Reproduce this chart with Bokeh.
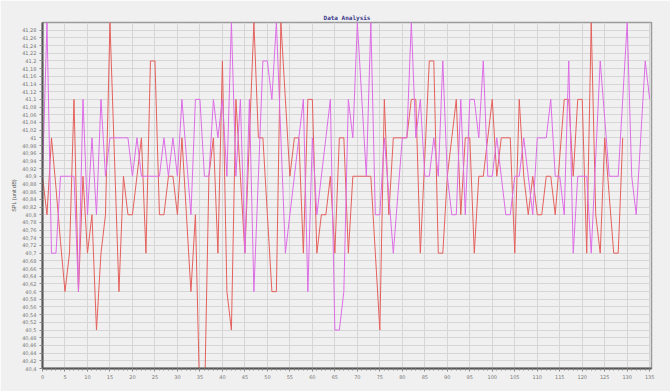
from bokeh.plotting import figure
from bokeh.models import FixedTicker, Range1d, Title
from bokeh.embed import file_html
from bokeh.resources import INLINE

red_values = [40.9, 40.8, 41.0, 40.87, 40.73, 40.6, 40.7, 41.1, 40.6, 40.9,
              40.7, 40.8, 40.5, 40.7, 40.8, 41.3, 40.95, 40.6, 40.9, 40.8,
              40.8, 40.9, 41.0, 40.7, 41.2, 41.2, 40.8, 40.8, 40.9, 40.9,
              40.8, 41.0, 40.8, 40.6, 40.8, 40.3, 40.3, 40.9, 41.0, 40.7,
              41.2, 40.6, 40.5, 41.1, 40.9, 40.7, 41.0, 41.3, 41.0, 41.0,
              40.8, 40.6, 40.6, 41.3, 41.1, 40.9, 41.0, 41.0, 40.7, 41.1,
              41.1, 40.7, 40.8, 40.8, 40.9, 40.7, 41.0, 41.0, 40.7, 40.9,
              40.9, 40.9, 40.9, 40.9, 40.7, 40.5, 41.1, 40.8, 41.0, 41.0,
              41.0, 41.0, 41.1, 41.1, 40.7, 40.95, 41.2, 41.2, 40.7, 40.7,
              40.9, 41.0, 41.1, 40.8, 41.0, 41.0, 40.7, 40.9, 40.9, 41.0,
              41.1, 40.9, 41.0, 41.0, 41.0, 40.7, 41.1, 40.9, 40.8, 40.9,
              40.8, 40.8, 40.9, 40.9, 40.8, 40.95, 41.1, 41.1, 40.9, 41.1,
              41.1, 40.7, 41.3, 40.8, 40.7, 41.0, 40.85, 40.7, 40.7, 41.0]

pink_values = [40.9, 41.3, 40.7, 40.7, 40.9, 40.9, 40.9, 40.9, 40.6, 41.1,
               40.8, 41.0, 40.8, 41.1, 40.9, 41.0, 41.0, 41.0, 41.0, 41.0,
               40.9, 41.0, 40.9, 40.9, 40.9, 40.9, 40.9, 41.0, 40.9, 41.0,
               40.9, 41.1, 40.95, 40.8, 41.1, 41.1, 40.9, 40.9, 41.1, 41.0,
               41.1, 40.9, 41.3, 40.9, 41.1, 40.7, 41.1, 40.6, 40.9, 41.2,
               41.2, 41.1, 41.3, 41.0, 40.7, 40.8, 40.9, 41.0, 41.1, 40.6,
               41.0, 40.8, 40.9, 41.0, 41.1, 40.5, 40.5, 40.6, 41.1, 41.0,
               41.3, 41.1, 40.9, 41.3, 40.8, 40.8, 41.0, 40.85, 40.7, 40.85,
               41.0, 41.0, 41.3, 41.0, 41.1, 40.9, 40.9, 41.0, 40.9, 41.2,
               40.9, 40.8, 40.8, 41.1, 40.8, 41.1, 41.1, 41.0, 41.2, 40.9,
               40.9, 41.0, 40.9, 40.8, 40.8, 40.9, 40.9, 41.0, 40.9, 40.8,
               41.0, 41.0, 41.0, 41.1, 40.9, 40.9, 40.8, 41.2, 40.7, 40.9,
               40.9, 40.9, 40.7, 40.95, 41.2, 41.05, 40.9, 40.9, 40.9, 41.1,
               41.3, 40.9, 40.8, 41.0, 41.2, 41.1]

red_x = list(range(len(red_values)))
pink_x = list(range(len(pink_values)))

x_ticks = list(range(0, 140, 5))
x_minor = list(range(0, 136))
y_ticks = [round(40.4 + 0.02 * k, 2) for k in range(45)]
y_labels = {t: (("%.2f" % t).rstrip("0").rstrip(".")).replace(".", ",") for t in y_ticks}

title_text = "Data Analysis"
y_title = "SPL (unit dB)"

BG = "#f0f0f0"

p = figure(width=670, height=391, output_backend="svg", toolbar_location=None,
           x_range=Range1d(0, 135.4), y_range=Range1d(40.4, 41.3),
           min_border_left=42, min_border_right=19, min_border_top=22,
           min_border_bottom=23)
p.background_fill_color = BG
p.border_fill_color = BG
p.outline_line_color = "#9a9a9a"
p.outline_line_width = 1.5

t = Title(text=title_text, align="center", text_font_size="6px",
          text_font="DejaVu Sans Mono", text_font_style="bold",
          text_color="#3a3a8a", offset=0, standoff=3)
p.add_layout(t, "above")

p.xaxis.ticker = FixedTicker(ticks=x_ticks, minor_ticks=x_minor)
p.yaxis.ticker = FixedTicker(ticks=y_ticks, minor_ticks=[])
p.yaxis.major_label_overrides = y_labels
p.yaxis.axis_label = y_title
p.yaxis.axis_label_text_font_size = "5.5px"
p.yaxis.axis_label_text_font_style = "normal"
p.yaxis.axis_label_text_color = "#555555"
p.yaxis.axis_label_standoff = 2

for ax in (p.xaxis[0], p.yaxis[0]):
    ax.axis_line_color = "#555555"
    ax.axis_line_width = 2
    ax.major_tick_line_color = "#888888"
    ax.minor_tick_line_color = "#888888"
    ax.major_tick_in = 0
    ax.major_tick_out = 3
    ax.minor_tick_in = 0
    ax.minor_tick_out = 2
    ax.major_label_text_font_size = "5px"
    ax.major_label_text_color = "#777777"
    ax.major_label_standoff = 3
    ax.major_label_text_font = "DejaVu Sans"

p.xgrid.ticker = FixedTicker(ticks=x_ticks)
p.ygrid.ticker = FixedTicker(ticks=y_ticks)
p.xgrid.grid_line_color = "#d6d6d6"
p.ygrid.grid_line_color = "#d6d6d6"
p.xgrid.grid_line_width = 1
p.ygrid.grid_line_width = 1

p.line(red_x, red_values, line_color="#e4605c", line_width=1)
p.line(pink_x, pink_values, line_color="#dd6ce6", line_width=1)

open("out.html", "w").write(file_html(p, INLINE))
